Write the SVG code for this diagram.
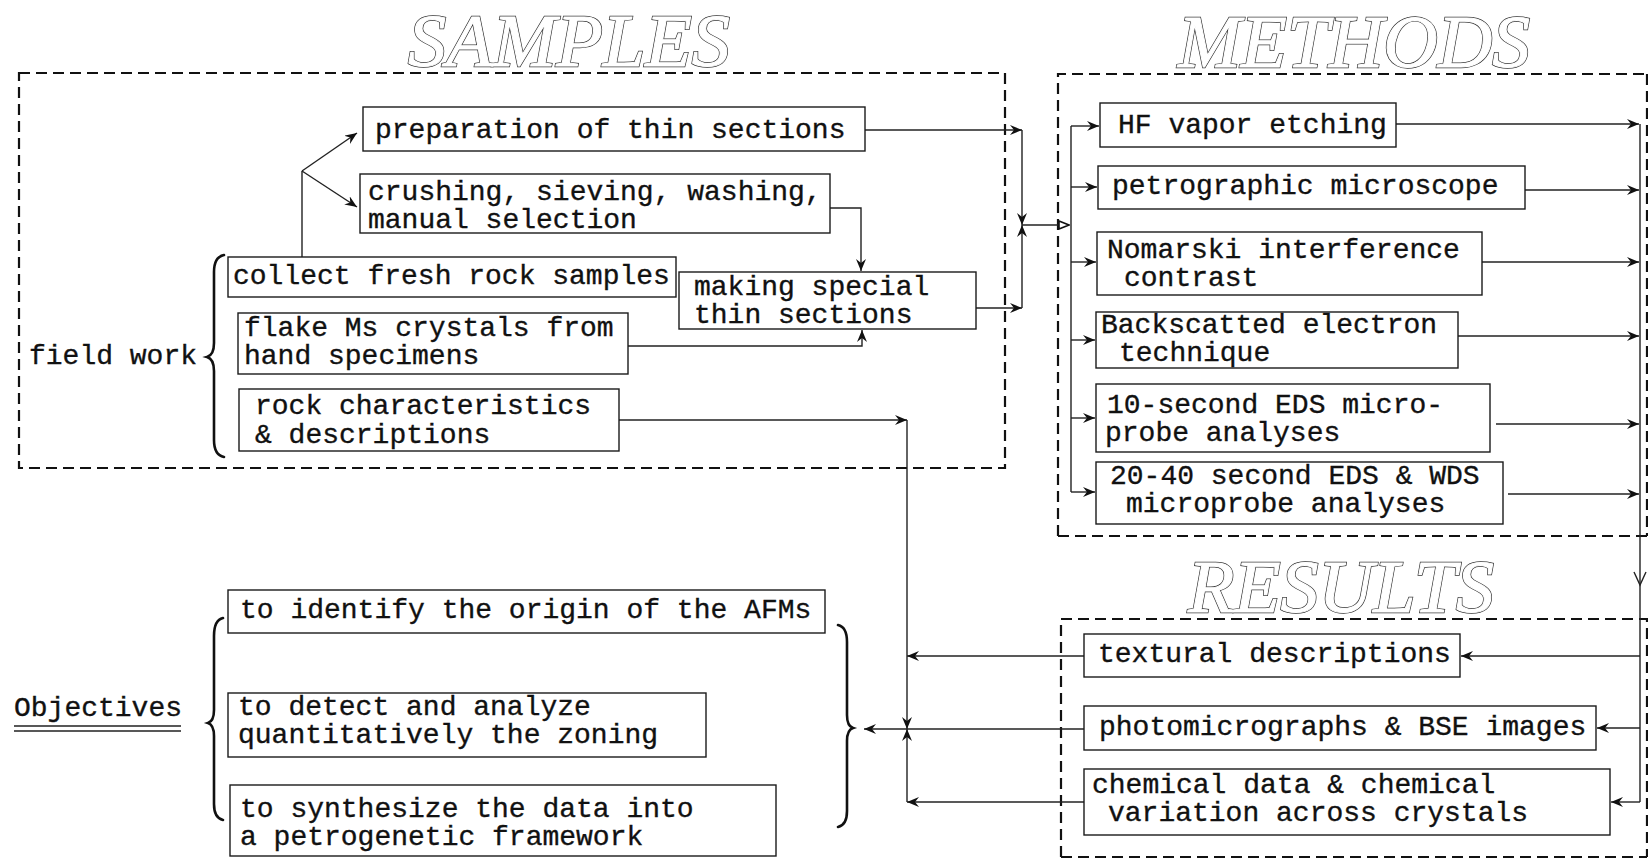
<svg xmlns="http://www.w3.org/2000/svg" width="1648" height="858" viewBox="0 0 1648 858">
  <style>
    .bg { fill: #ffffff; }
    .box { fill: #ffffff; stroke: #1a1a1a; stroke-width: 1.4; }
    .region { fill: none; stroke: #111; stroke-width: 2.2; stroke-dasharray: 11 6; }
    .t { font-family: "Liberation Mono", "DejaVu Sans Mono", monospace; font-size: 28px; fill: #111; stroke: #111; stroke-width: 0.35; }
    .title-o { font-family: "Liberation Serif", "DejaVu Serif", serif; font-style: italic; font-size: 74px; fill: #fff; stroke: #333; stroke-width: 2.4; }
    .title-i { font-family: "Liberation Serif", "DejaVu Serif", serif; font-style: italic; font-size: 74px; fill: #fff; stroke: #fff; stroke-width: 1.0; }
    .ln { fill: none; stroke: #222; stroke-width: 1.4; }
    .brace { fill: none; stroke: #111; stroke-width: 2.6; stroke-linecap: round; }
  </style>
  <defs>
    <marker id="arr" viewBox="0 0 12 10" refX="12" refY="5" markerWidth="12" markerHeight="10" markerUnits="userSpaceOnUse" orient="auto">
      <path d="M0,0 L12,5 L0,10 L4,5 z" fill="#111"/>
    </marker>
    <marker id="tri" viewBox="0 0 12 10" refX="11" refY="5" markerWidth="12" markerHeight="10" markerUnits="userSpaceOnUse" orient="auto">
      <path d="M1,1 L11,5 L1,9 z" fill="#fff" stroke="#111" stroke-width="1.6"/>
    </marker>
  </defs>

  <rect class="bg" x="0" y="0" width="1648" height="858"/>

  <!-- section titles: hollow double-outline lettering -->
  <g id="title-samples">
    <text class="title-o" x="408" y="66" textLength="322" lengthAdjust="spacingAndGlyphs">SAMPLES</text>
    <text class="title-i" x="408" y="66" textLength="322" lengthAdjust="spacingAndGlyphs">SAMPLES</text>
  </g>
  <g id="title-methods">
    <text class="title-o" x="1178" y="67" textLength="352" lengthAdjust="spacingAndGlyphs">METHODS</text>
    <text class="title-i" x="1178" y="67" textLength="352" lengthAdjust="spacingAndGlyphs">METHODS</text>
  </g>
  <g id="title-results">
    <text class="title-o" x="1188" y="612" textLength="306" lengthAdjust="spacingAndGlyphs">RESULTS</text>
    <text class="title-i" x="1188" y="612" textLength="306" lengthAdjust="spacingAndGlyphs">RESULTS</text>
  </g>

  <!-- dashed section frames -->
  <g id="frames">
    <rect class="region" x="19" y="73" width="986" height="395"/>
    <path class="region" d="M1058,536 L1058,74 L1647,74 M1647,74 L1647,536 M1058,536 L1647,536"/>
    <path class="region" d="M1061,857 L1061,619 L1647,619 L1647,857 M1061,857 L1647,857"/>
  </g>

  <!-- connectors -->
  <g id="connectors">
    <!-- collect samples fork -->
    <path class="ln" d="M302,257 L302,171"/>
    <path class="ln" d="M302,171 L357,133" marker-end="url(#arr)"/>
    <path class="ln" d="M302,171 L357,207" marker-end="url(#arr)"/>
    <!-- into making special thin sections -->
    <path class="ln" d="M830,208 L861,208 L861,271" marker-end="url(#arr)"/>
    <path class="ln" d="M628,346 L862,346 L862,330" marker-end="url(#arr)"/>
    <!-- samples to methods junction -->
    <path class="ln" d="M865,130 L1022,130" marker-end="url(#arr)"/>
    <path class="ln" d="M976,308 L1022,308" marker-end="url(#arr)"/>
    <path class="ln" d="M1022,130 L1022,225" marker-end="url(#arr)"/>
    <path class="ln" d="M1022,308 L1022,225" marker-end="url(#arr)"/>
    <path class="ln" d="M1022,225 L1069,225" marker-end="url(#tri)"/>
    <!-- methods input bus -->
    <path class="ln" d="M1071,126 L1071,492"/>
    <path class="ln" d="M1071,126 L1099,126" marker-end="url(#arr)"/>
    <path class="ln" d="M1071,187 L1097,187" marker-end="url(#arr)"/>
    <path class="ln" d="M1071,262 L1096,262" marker-end="url(#arr)"/>
    <path class="ln" d="M1071,340 L1095,340" marker-end="url(#arr)"/>
    <path class="ln" d="M1071,418 L1095,418" marker-end="url(#arr)"/>
    <path class="ln" d="M1071,492 L1095,492" marker-end="url(#arr)"/>
    <!-- methods output bus -->
    <path class="ln" d="M1396,124 L1639,124" marker-end="url(#arr)"/>
    <path class="ln" d="M1525,190 L1639,190" marker-end="url(#arr)"/>
    <path class="ln" d="M1482,262 L1639,262" marker-end="url(#arr)"/>
    <path class="ln" d="M1458,336 L1639,336" marker-end="url(#arr)"/>
    <path class="ln" d="M1496,424 L1639,424" marker-end="url(#arr)"/>
    <path class="ln" d="M1508,494 L1639,494" marker-end="url(#arr)"/>
    <path class="ln" d="M1640,124 L1640,802"/>
    <path class="ln" d="M1634,572 L1640,585 L1646,572"/>
    <!-- into results -->
    <path class="ln" d="M1640,656 L1461,656" marker-end="url(#arr)"/>
    <path class="ln" d="M1640,728 L1597,728" marker-end="url(#arr)"/>
    <path class="ln" d="M1640,802 L1611,802" marker-end="url(#arr)"/>
    <!-- results and field notes to objectives -->
    <path class="ln" d="M619,420 L907,420" marker-end="url(#arr)"/>
    <path class="ln" d="M1084,656 L907,656" marker-end="url(#arr)"/>
    <path class="ln" d="M1084,802 L907,802" marker-end="url(#arr)"/>
    <path class="ln" d="M907,420 L907,729" marker-end="url(#arr)"/>
    <path class="ln" d="M907,802 L907,729" marker-end="url(#arr)"/>
    <path class="ln" d="M1084,729 L864,729" marker-end="url(#arr)"/>
  </g>

  <!-- samples -->
  <g id="node-prep">
    <rect class="box" x="363" y="107" width="502" height="44"/>
    <text class="t" x="375" y="138">preparation of thin sections</text>
  </g>
  <g id="node-crush">
    <rect class="box" x="360" y="174" width="470" height="59"/>
    <text class="t" x="368" y="200">crushing, sieving, washing,</text>
    <text class="t" x="368" y="228">manual selection</text>
  </g>
  <g id="node-collect">
    <rect class="box" x="228" y="257" width="448" height="40"/>
    <text class="t" x="233" y="284">collect fresh rock samples</text>
  </g>
  <g id="node-special">
    <rect class="box" x="679" y="272" width="297" height="57"/>
    <text class="t" x="694" y="295">making special</text>
    <text class="t" x="694" y="323">thin sections</text>
  </g>
  <g id="node-flake">
    <rect class="box" x="238" y="313" width="390" height="61"/>
    <text class="t" x="244" y="336">flake Ms crystals from</text>
    <text class="t" x="244" y="364">hand specimens</text>
  </g>
  <g id="node-rock">
    <rect class="box" x="239" y="389" width="380" height="62"/>
    <text class="t" x="255" y="414">rock characteristics</text>
    <text class="t" x="255" y="443">&amp; descriptions</text>
  </g>
  <g id="node-fieldwork">
    <text class="t" x="29" y="364">field work</text>
    <path class="brace" d="M224,255 Q214,257 214,272 L214,343 Q214,355 207,357 Q214,359 214,371 L214,440 Q214,455 224,457"/>
  </g>

  <!-- methods -->
  <g id="node-hf">
    <rect class="box" x="1100" y="103" width="296" height="44"/>
    <text class="t" x="1118" y="133">HF vapor etching</text>
  </g>
  <g id="node-petro">
    <rect class="box" x="1098" y="166" width="427" height="43"/>
    <text class="t" x="1112" y="194">petrographic microscope</text>
  </g>
  <g id="node-nomarski">
    <rect class="box" x="1097" y="232" width="385" height="63"/>
    <text class="t" x="1107" y="258">Nomarski interference</text>
    <text class="t" x="1124" y="286">contrast</text>
  </g>
  <g id="node-bse">
    <rect class="box" x="1096" y="312" width="362" height="56"/>
    <text class="t" x="1101" y="333">Backscatted electron</text>
    <text class="t" x="1119" y="361">technique</text>
  </g>
  <g id="node-eds10">
    <rect class="box" x="1096" y="384" width="394" height="68"/>
    <text class="t" x="1107" y="413">10-second EDS micro-</text>
    <text class="t" x="1105" y="441">probe analyses</text>
  </g>
  <g id="node-eds20">
    <rect class="box" x="1096" y="462" width="407" height="62"/>
    <text class="t" x="1110" y="484">20-40 second EDS &amp; WDS</text>
    <text class="t" x="1126" y="512">microprobe analyses</text>
  </g>

  <!-- results -->
  <g id="node-textural">
    <rect class="box" x="1084" y="634" width="376" height="43"/>
    <text class="t" x="1098" y="662">textural descriptions</text>
  </g>
  <g id="node-photo">
    <rect class="box" x="1084" y="706" width="512" height="44"/>
    <text class="t" x="1099" y="735">photomicrographs &amp; BSE images</text>
  </g>
  <g id="node-chemical">
    <rect class="box" x="1084" y="769" width="526" height="66"/>
    <text class="t" x="1092" y="793">chemical data &amp; chemical</text>
    <text class="t" x="1108" y="821">variation across crystals</text>
  </g>

  <!-- objectives -->
  <g id="node-objectives">
    <text class="t" x="14" y="716">Objectives</text>
    <path class="ln" d="M14,726 L181,726 M14,731 L181,731" stroke-width="1.3"/>
    <path class="brace" d="M223,618 Q214,620 214,636 L214,710 Q214,721 208,723 Q214,725 214,736 L214,804 Q214,818 223,820"/>
    <path class="brace" d="M838,625 Q847,627 847,642 L847,715 Q847,726 853,728 Q847,730 847,741 L847,811 Q847,825 838,827"/>
  </g>
  <g id="node-origin">
    <rect class="box" x="228" y="590" width="597" height="43"/>
    <text class="t" x="240" y="618">to identify the origin of the AFMs</text>
  </g>
  <g id="node-zoning">
    <rect class="box" x="228" y="693" width="478" height="64"/>
    <text class="t" x="238" y="715">to detect and analyze</text>
    <text class="t" x="238" y="743">quantitatively the zoning</text>
  </g>
  <g id="node-synthesize">
    <rect class="box" x="230" y="785" width="546" height="71"/>
    <text class="t" x="240" y="817">to synthesize the data into</text>
    <text class="t" x="240" y="845">a petrogenetic framework</text>
  </g>
</svg>
